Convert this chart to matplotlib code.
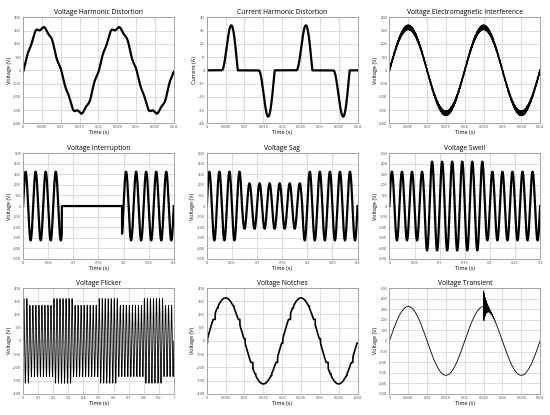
import matplotlib.pyplot as plt
import numpy as np

plt.rcParams['font.family'] = ['Open Sans', 'DejaVu Sans']

# --- valores ---
f_line = 50.0          # Hz
v_peak = 325.0         # V

# distorsion armonica de tension
harm_orders = [5, 9]
harm_amps = [8.0, 12.0]
harm_phases_deg = [180.0, -90.0]

# corriente distorsionada (pulsos de rectificador)
pulse_starts = [0.0040, 0.0138, 0.0238, 0.0336]
pulse_peaks_t = [0.0065, 0.0163, 0.0263, 0.0362]
pulse_ends = [0.0082, 0.0180, 0.0280, 0.0379]
pulse_peaks = [34.0, -35.0, 34.0, -35.0]

# interferencia electromagnetica
emi_freq = 6000.0
emi_amp = 20.0

# interrupcion / hueco / sobretension
interrupt_window = [0.077, 0.197]
sag_window = [0.070, 0.190]
sag_peak = 215.0
swell_window = [0.070, 0.190]
swell_peak = 420.0

# flicker
flicker_edges = [0.0, 0.04, 0.20, 0.33, 0.50, 0.63, 0.80, 0.93, 1.0]
flicker_levels = [320.0, 270.0, 320.0, 270.0, 320.0, 270.0, 320.0, 270.0]

# muescas (grados dentro de un ciclo)
notch_start_deg = [-3, 30, 50, 126, 150, 177, 210, 230, 306, 330]
notch_end_deg = [3, 40, 54, 130, 158, 183, 220, 234, 310, 338]

# transitorio
transient_t0 = 0.025
transient_amp = 150.0
transient_tau = 0.0007
transient_freq = 9000.0


def sine(t, amp=v_peak):
    return amp * np.sin(2 * np.pi * f_line * t)


def style_axes(ax, title, ylabel, xlim, xticks, ylim, yticks):
    ax.set_title(title, fontsize=4.9, pad=2.5)
    ax.set_xlim(*xlim)
    ax.set_ylim(*ylim)
    ax.set_xticks(xticks)
    ax.set_yticks(yticks)
    ax.set_xticklabels([f'{round(v, 4):g}' for v in xticks])
    ax.set_yticklabels([f'{v:g}' for v in yticks])
    ax.tick_params(labelsize=2.8, length=0, pad=1.5, colors='#444444')
    ax.grid(True, color='#cfcfcf', linewidth=0.5)
    ax.set_axisbelow(True)
    for s in ax.spines.values():
        s.set_color('#999999')
        s.set_linewidth(0.6)
    ax.set_xlabel('Time (s)', fontsize=4, labelpad=0.5)
    ax.set_ylabel(ylabel, fontsize=4, labelpad=1)


fig = plt.figure(figsize=(5.5, 4.15), dpi=100)
lefts = [0.042, 0.376, 0.708]
bottoms = [0.703, 0.376, 0.051]
w, h = 0.274, 0.255
axes = [[fig.add_axes([l, b, w, h]) for l in lefts] for b in bottoms]

lw = 1.6
t04 = np.linspace(0, 0.04, 40000)
t03 = np.linspace(0, 0.3, 12000)
ticks04 = np.arange(0, 0.0401, 0.005)
ticks03 = np.arange(0, 0.301, 0.05)
y400 = np.arange(-400, 401, 100)
y500 = np.arange(-500, 501, 100)

# 1. distorsion armonica de tension
theta = 2 * np.pi * f_line * t04
v1 = sine(t04)
for n, a, p in zip(harm_orders, harm_amps, harm_phases_deg):
    v1 = v1 + a * np.sin(n * theta + np.radians(p))
ax = axes[0][0]
ax.plot(t04, v1, color='black', lw=lw)
style_axes(ax, 'Voltage Harmonic Distortion', 'Voltage (V)', (0, 0.04), ticks04, (-400, 400), y400)

# 2. distorsion armonica de corriente
i2 = np.zeros_like(t04)
for ts, tp, te, pk in zip(pulse_starts, pulse_peaks_t, pulse_ends, pulse_peaks):
    rise = (t04 >= ts) & (t04 < tp)
    i2[rise] = pk * np.sin(0.5 * np.pi * (t04[rise] - ts) / (tp - ts)) ** 2
    fall = (t04 >= tp) & (t04 < te)
    i2[fall] = pk * np.cos(0.5 * np.pi * (t04[fall] - tp) / (te - tp))
ax = axes[0][1]
ax.plot(t04, i2, color='black', lw=lw)
style_axes(ax, 'Current Harmonic Distortion', 'Current (A)', (0, 0.04), ticks04, (-40, 40),
           np.arange(-40, 41, 10))

# 3. interferencia electromagnetica
v3 = sine(t04) + emi_amp * np.sin(2 * np.pi * emi_freq * t04)
ax = axes[0][2]
ax.plot(t04, v3, color='black', lw=0.5)
style_axes(ax, 'Voltage Electromagnetic Interference', 'Voltage (V)', (0, 0.04), ticks04,
           (-400, 400), y400)

# 4. interrupcion
v4 = sine(t03)
v4[(t03 >= interrupt_window[0]) & (t03 < interrupt_window[1])] = 0
ax = axes[1][0]
ax.plot(t03, v4, color='black', lw=lw)
style_axes(ax, 'Voltage Interruption', 'Voltage (V)', (0, 0.3), ticks03, (-500, 500), y500)

# 5. hueco
amp5 = np.where((t03 >= sag_window[0]) & (t03 < sag_window[1]), sag_peak, v_peak)
ax = axes[1][1]
ax.plot(t03, amp5 * np.sin(2 * np.pi * f_line * t03), color='black', lw=lw)
style_axes(ax, 'Voltage Sag', 'Voltage (V)', (0, 0.3), ticks03, (-500, 500), y500)

# 6. sobretension
amp6 = np.where((t03 >= swell_window[0]) & (t03 < swell_window[1]), swell_peak, v_peak)
ax = axes[1][2]
ax.plot(t03, amp6 * np.sin(2 * np.pi * f_line * t03), color='black', lw=lw)
style_axes(ax, 'Voltage Swell', 'Voltage (V)', (0, 0.3), ticks03, (-500, 500), y500)

# 7. flicker
t1 = np.linspace(0, 1.0, 20000)
idx = np.clip(np.searchsorted(flicker_edges, t1, side='right') - 1, 0, len(flicker_levels) - 1)
amp7 = np.array(flicker_levels)[idx]
ax = axes[2][0]
ax.plot(t1, amp7 * np.sin(2 * np.pi * f_line * t1), color='black', lw=0.6)
style_axes(ax, 'Voltage Flicker', 'Voltage (V)', (0, 1.0), np.arange(0, 1.01, 0.1), (-400, 400), y400)

# 8. muescas
deg = np.degrees(2 * np.pi * f_line * t04)
v8 = sine(t04)
for ds, de in zip(notch_start_deg, notch_end_deg):
    for k in range(-1, 3):
        a0, a1 = ds + 360 * k, de + 360 * k
        m = (deg >= a0) & (deg < a1)
        v8[m] = v_peak * np.sin(np.radians(a0))
ax = axes[2][1]
ax.plot(t04, v8, color='black', lw=1.2)
style_axes(ax, 'Voltage Notches', 'Voltage (V)', (0, 0.04), ticks04, (-400, 400), y400)

# 9. transitorio
v9 = sine(t04)
m = t04 >= transient_t0
dt = t04[m] - transient_t0
v9[m] += transient_amp * np.exp(-dt / transient_tau) * np.sin(2 * np.pi * transient_freq * dt)
ax = axes[2][2]
ax.plot(t04, v9, color='black', lw=0.6)
style_axes(ax, 'Voltage Transient', 'Voltage (V)', (0, 0.04), ticks04, (-500, 500), y500)

fig.savefig('out.png', dpi=100, facecolor='white')
